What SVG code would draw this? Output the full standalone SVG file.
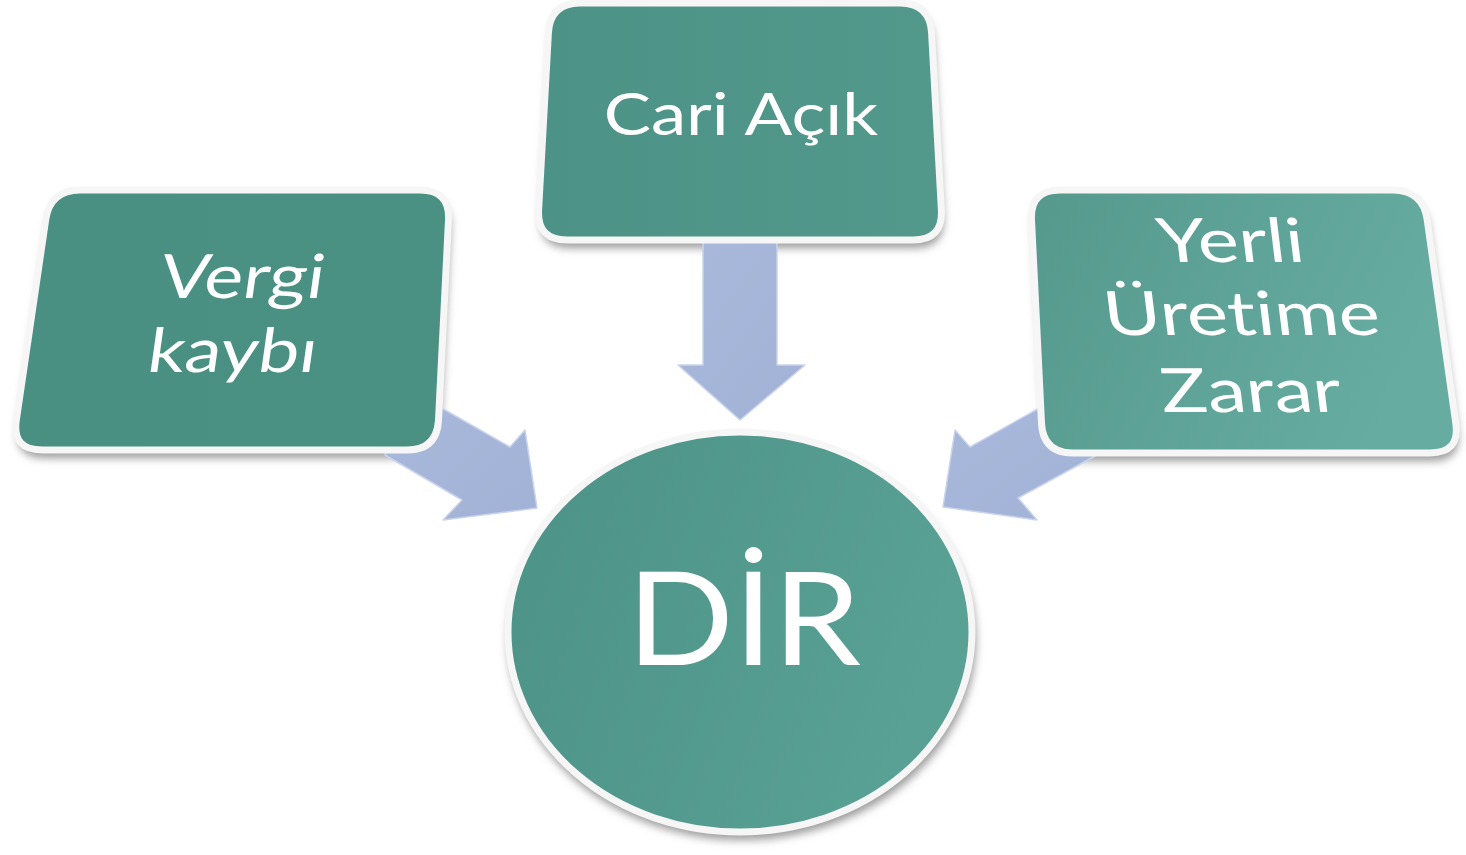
<svg xmlns="http://www.w3.org/2000/svg" width="1466" height="855" viewBox="0 0 1466 855">
<defs>
<filter id="sh" x="-10%" y="-10%" width="120%" height="130%">
<feGaussianBlur stdDeviation="4"/>
</filter>
<linearGradient id="gL" x1="0" y1="0" x2="1" y2="0"><stop offset="0" stop-color="#498f82"/><stop offset="1" stop-color="#4a9083"/></linearGradient>
<linearGradient id="gC" x1="0" y1="0" x2="1" y2="0"><stop offset="0" stop-color="#4c9286"/><stop offset="1" stop-color="#52988b"/></linearGradient>
<linearGradient id="gR" x1="0" y1="0" x2="1" y2="0.3"><stop offset="0" stop-color="#55998d"/><stop offset="1" stop-color="#67aca1"/></linearGradient>
<linearGradient id="gO" x1="0" y1="0" x2="1" y2="0.3"><stop offset="0" stop-color="#4c9286"/><stop offset="1" stop-color="#59a095"/></linearGradient>
<linearGradient id="gA" x1="0" y1="0" x2="1" y2="1"><stop offset="0" stop-color="#a9b9dc"/><stop offset="1" stop-color="#a2b2d6"/></linearGradient>
<path id="pL" d="M80,190 L420,190 Q450,190 448.5,220 L438.5,420 Q437,450 407,450 L42,450 Q12,450 16.3,420.3 L45.7,219.7 Q50,190 80,190 Z"/>
<path id="pC" d="M580,3 L900,3 Q930,3 931.6,33 L941.4,210 Q943,240 913,240 L567,240 Q537,240 538.6,210 L548.4,33 Q550,3 580,3 Z"/>
<path id="pR" d="M1060,190 L1393,190 Q1423,190 1427.2,219.7 L1455.8,423.3 Q1460,453 1430,453 L1073,453 Q1043,453 1041.5,423 L1031.5,220 Q1030,190 1060,190 Z"/>
</defs>
<style>
.box{stroke:#f6f6f6;stroke-width:7;stroke-linejoin:round}
.shadow{fill:#7a7a7a;opacity:0.75}
.arrow{fill:url(#gA);stroke:#c9d3ec;stroke-width:1.5;stroke-linejoin:round}
.t{fill:#ffffff;font-family:Lato,"Open Sans","Liberation Sans",sans-serif;text-anchor:middle;font-variant-ligatures:none;font-feature-settings:"liga" 0,"dlig" 0}
</style>
<rect width="1466" height="855" fill="#ffffff"/>
<g id="shadows" filter="url(#sh)">
<use href="#pL" class="shadow" transform="translate(2,8)"/>
<use href="#pC" class="shadow" transform="translate(2,8)"/>
<use href="#pR" class="shadow" transform="translate(2,8)"/>
<ellipse cx="742" cy="640" rx="234" ry="200" class="shadow"/>
</g>
<g id="connectors">
<polygon class="arrow" points="703,240 777,240 777,365 805,365 740,420 678,365 703,365"/>
<polygon class="arrow" points="410,390 510,447 525,430 537,508 443,520 462,500 385,455"/>
<polygon class="arrow" points="1050,402 970,447 955,430 943,507 1037,520 1018,498 1095,456"/>
</g>
<g id="node-vergi">
<use href="#pL" class="box" fill="url(#gL)"/>
<text class="t" font-size="61" transform="translate(240,298) skewX(-8) scale(1.2,1)">Vergi</text>
<text class="t" font-size="61" transform="translate(230,372) skewX(-8) scale(1.2,1)">kaybı</text>
</g>
<g id="node-cari">
<use href="#pC" class="box" fill="url(#gC)"/>
<text class="t" font-size="58" transform="translate(741,135) scale(1.22,1)">Cari Açık</text>
</g>
<g id="node-yerli">
<use href="#pR" class="box" fill="url(#gR)"/>
<text class="t" font-size="61" transform="translate(1233,262) skewX(7) scale(1.28,1)">Yerli</text>
<text class="t" font-size="61" transform="translate(1244,335) skewX(7) scale(1.28,1)">Üretime</text>
<text class="t" font-size="61" transform="translate(1253,412) skewX(7) scale(1.28,1)">Zarar</text>
</g>
<g id="node-dir">
<ellipse cx="740" cy="632" rx="232" ry="200" fill="url(#gO)" stroke="#f6f6f6" stroke-width="7"/>
<text class="t" font-size="130" transform="translate(744,665) scale(1.08,1)">DİR</text>
</g>
</svg>
